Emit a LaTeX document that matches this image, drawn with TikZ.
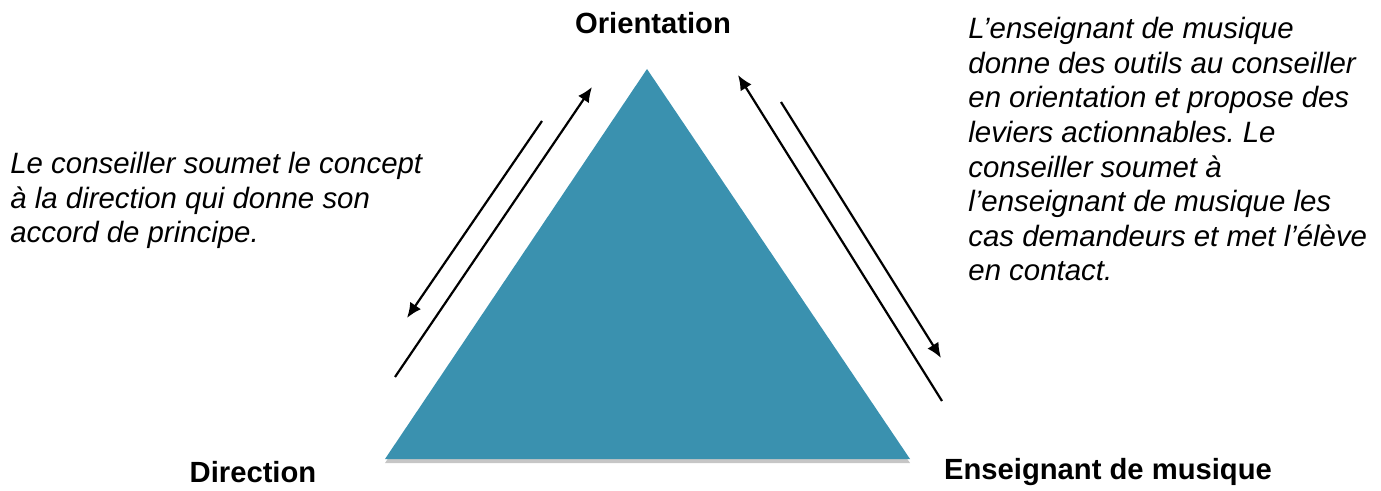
\documentclass[tikz,border=0pt]{standalone}
\usepackage{fontspec}
\setmainfont{Liberation Sans}
\usetikzlibrary{arrows.meta, shadows}
\frenchspacing

\definecolor{pyramid}{RGB}{58,145,175}

\begin{document}
\begin{tikzpicture}[x=0.5pt, y=-0.5pt, >={Latex[length=7.5pt, width=6.5pt]},
  corner/.style={font=\fontsize{14.6pt}{17pt}\selectfont\bfseries, inner sep=0pt, anchor=base},
  note/.style={font=\fontsize{14.7pt}{17.3pt}\selectfont\itshape, inner sep=0pt, align=left, anchor=north west},
  flow/.style={->, line width=1.1pt}]

\useasboundingbox (0,0) rectangle (1381,491);

\coordinate (T) at (647, 69);
\coordinate (L) at (385, 459);
\coordinate (R) at (910, 459);

\fill[pyramid, drop shadow={shadow xshift=0pt, shadow yshift=-2pt, opacity=0.45}] (L) -- (R) -- (T) -- cycle;

\node[corner] (orient) at (653, 34) {Orientation};
\node[corner] (dir) at (253, 482) {Direction};
\node[corner] (ens) at (1108, 480) {Enseignant de musique};

\node[note] (leftnote) at (10, 152) {Le conseiller soumet le concept\\à la direction qui donne son\\accord de principe.};
\node[note] (rightnote) at (968, 17) {L’enseignant de musique\\donne des outils au conseiller\\en orientation et propose des\\leviers actionnables. Le\\conseiller soumet à\\l’enseignant de musique les\\cas demandeurs et met l’élève\\en contact.};

% left pair
\coordinate (dirS) at (395, 377);
\coordinate (dirE) at (592, 87);
\coordinate (oriS) at (542, 121);
\coordinate (oriE) at (407, 318);
\draw[flow] (dirS) -- (dirE);
\draw[flow] (oriS) -- (oriE);

% right pair
\coordinate (ensS) at (942, 401);
\coordinate (ensE) at (738, 75);
\coordinate (conS) at (781, 102);
\coordinate (conE) at (941, 358);
\draw[flow] (ensS) -- (ensE);
\draw[flow] (conS) -- (conE);

\end{tikzpicture}
\end{document}
